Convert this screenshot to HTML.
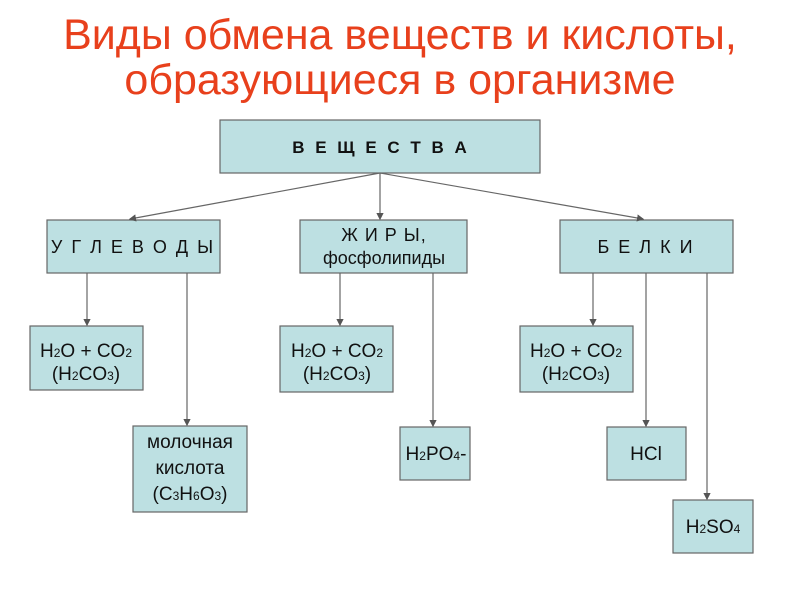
<!DOCTYPE html>
<html><head><meta charset="utf-8"><style>
body{margin:0;width:800px;height:600px;background:#fff;overflow:hidden}
svg text{font-family:"Liberation Sans",sans-serif;fill:#111}
.t{font-family:"Liberation Sans",sans-serif;fill:#e8401c!important;font-size:43px}
.s{font-size:12px}
</style></head><body>
<svg width="800" height="600" xmlns="http://www.w3.org/2000/svg">
<defs><marker id="a" markerWidth="6" markerHeight="6" refX="5" refY="3" orient="auto"><path d="M0,0L6,3L0,6z" fill="#555"/></marker></defs>
<text class="t" x="400" y="49" text-anchor="middle">Виды обмена веществ и кислоты,</text>
<text class="t" x="400" y="94" text-anchor="middle">образующиеся в организме</text>
<g fill="#bde0e2" stroke="#666" stroke-width="1.2">
<rect x="220" y="120" width="320" height="53"/>
<rect x="47" y="220" width="173" height="53"/>
<rect x="300" y="220" width="167" height="53"/>
<rect x="560" y="220" width="173" height="53"/>
<rect x="30" y="326" width="113" height="64"/>
<rect x="280" y="326" width="113" height="66"/>
<rect x="520" y="326" width="113" height="66"/>
<rect x="133" y="426" width="114" height="86"/>
<rect x="400" y="427" width="70" height="53"/>
<rect x="607" y="427" width="79" height="53"/>
<rect x="673" y="500" width="80" height="53"/>
</g>
<g stroke="#666" stroke-width="1.2" marker-end="url(#a)">
<line x1="380" y1="173" x2="130" y2="219"/>
<line x1="380" y1="173" x2="380" y2="219"/>
<line x1="380" y1="173" x2="643" y2="219"/>
<line x1="87" y1="273" x2="87" y2="325"/>
<line x1="187" y1="273" x2="187" y2="425"/>
<line x1="340" y1="273" x2="340" y2="325"/>
<line x1="433" y1="273" x2="433" y2="426"/>
<line x1="593" y1="273" x2="593" y2="325"/>
<line x1="646" y1="273" x2="646" y2="426"/>
<line x1="707" y1="273" x2="707" y2="499"/>
</g>
<text x="381" y="153" text-anchor="middle" font-size="17" font-weight="bold" letter-spacing="3">В Е Щ Е С Т В А</text>
<text x="133" y="253" text-anchor="middle" font-size="18" letter-spacing="2">У Г Л Е В О Д Ы</text>
<text x="384" y="241" text-anchor="middle" font-size="18" letter-spacing="1">Ж И Р Ы,</text>
<text x="384" y="264" text-anchor="middle" font-size="18">фосфолипиды</text>
<text x="646" y="253" text-anchor="middle" font-size="18" letter-spacing="2">Б Е Л К И</text>
<g font-size="19" text-anchor="middle">
<text x="86" y="357">H<tspan class="s">2</tspan>O + CO<tspan class="s">2</tspan></text>
<text x="86" y="380">(H<tspan class="s">2</tspan>CO<tspan class="s">3</tspan>)</text>
<text x="337" y="357">H<tspan class="s">2</tspan>O + CO<tspan class="s">2</tspan></text>
<text x="337" y="380">(H<tspan class="s">2</tspan>CO<tspan class="s">3</tspan>)</text>
<text x="576" y="357">H<tspan class="s">2</tspan>O + CO<tspan class="s">2</tspan></text>
<text x="576" y="380">(H<tspan class="s">2</tspan>CO<tspan class="s">3</tspan>)</text>
<text x="190" y="448">молочная</text>
<text x="190" y="474">кислота</text>
<text x="190" y="500">(C<tspan class="s">3</tspan>H<tspan class="s">6</tspan>O<tspan class="s">3</tspan>)</text>
<text x="436" y="460">H<tspan class="s">2</tspan>PO<tspan class="s">4</tspan>-</text>
<text x="646" y="460">HCl</text>
<text x="713" y="533">H<tspan class="s">2</tspan>SO<tspan class="s">4</tspan></text>
</g>
</svg>
</body></html>
